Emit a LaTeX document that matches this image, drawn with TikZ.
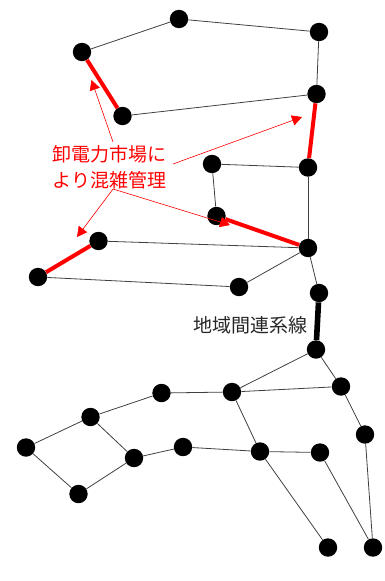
\documentclass[tikz,border=0pt]{standalone}
\usepackage{fontspec}
\setmainfont{Noto Sans CJK JP}
\usetikzlibrary{arrows.meta}
\begin{document}
\begin{tikzpicture}[x=1pt, y=-1pt, bus/.style={circle, fill=black, inner sep=0pt, minimum size=18.4pt},
  line/.style={draw=black!75, line width=0.8pt}, congested/.style={draw=red, line width=4pt},
  tieline/.style={draw=black, line width=5.6pt},
  note/.style={draw=red, line width=0.6pt, -{Triangle[length=10pt,width=10.5pt]}},
  caption/.style={inner sep=0pt, align=center, font=\fontsize{19pt}{25.5pt}\selectfont}]
  \useasboundingbox (0,0) rectangle (384,581);

  % upper area
  \node[bus] (1) at (179,19) {};
  \node[bus] (2) at (319,32) {};
  \node[bus] (3) at (82,52) {};
  \node[bus] (4) at (316.5,94) {};
  \node[bus] (5) at (122.5,116) {};
  \node[bus] (6) at (308,167.5) {};
  \node[bus] (7) at (212,164) {};
  \node[bus] (8) at (216.5,216) {};
  \node[bus] (9) at (308,248) {};
  \node[bus] (10) at (98.5,241) {};
  \node[bus] (11) at (38,277) {};
  \node[bus] (12) at (239,287) {};
  \node[bus] (13) at (319,293) {};

  % lower area
  \node[bus] (14) at (316,349.5) {};
  \node[bus] (15) at (341,386.5) {};
  \node[bus] (16) at (232,392) {};
  \node[bus] (17) at (161.5,393) {};
  \node[bus] (18) at (90.5,417) {};
  \node[bus] (19) at (26,447.5) {};
  \node[bus] (20) at (365,434.5) {};
  \node[bus] (21) at (260,451.5) {};
  \node[bus] (22) at (320,452.5) {};
  \node[bus] (23) at (183,447) {};
  \node[bus] (24) at (134,458) {};
  \node[bus] (25) at (78.5,494) {};
  \node[bus] (26) at (328,547.5) {};
  \node[bus] (27) at (373,547.5) {};

  \node[caption, text=red] (market) at (109.5,167) {卸電力市場に\\より混雑管理};
  \node[caption, text=black!85] (tie) at (250,325) {地域間連系線};

  \path[line]
    (3) edge (1)
    (1) edge (2)
    (2) edge (4)
    (4) edge (5)
    (6) edge (7)
    (7) edge (8)
    (6) edge (9)
    (9) edge (10)
    (11) edge (12)
    (12) edge (9)
    (9) edge (13)
    (14) edge (16)
    (14) edge (15)
    (16) edge (15)
    (16) edge (17)
    (17) edge (18)
    (18) edge (19)
    (19) edge (25)
    (25) edge (24)
    (24) edge (18)
    (24) edge (23)
    (23) edge (21)
    (16) edge (21)
    (21) edge (22)
    (21) edge (26)
    (22) edge (27)
    (15) edge (20)
    (20) edge (27);

  \path[congested]
    (5) edge (3)
    (4) edge (6)
    (9) edge (8)
    (10) edge (11);
  \path[tieline] (13) edge (14);

  % red pointers from the caption
  \coordinate (up) at (113,142);
  \coordinate (right) at (173,164);
  \coordinate (down) at (113,189);
  \coordinate (tip1) at (91.5,80);
  \coordinate (tip2) at (302,117);
  \coordinate (tip3) at (77,237);
  \coordinate (tip4) at (230,225);
  \draw[note] (up) -- (tip1);
  \draw[note] (right) -- (tip2);
  \draw[note] (down) -- (tip3);
  \draw[note] (down) -- (tip4);
\end{tikzpicture}
\end{document}
